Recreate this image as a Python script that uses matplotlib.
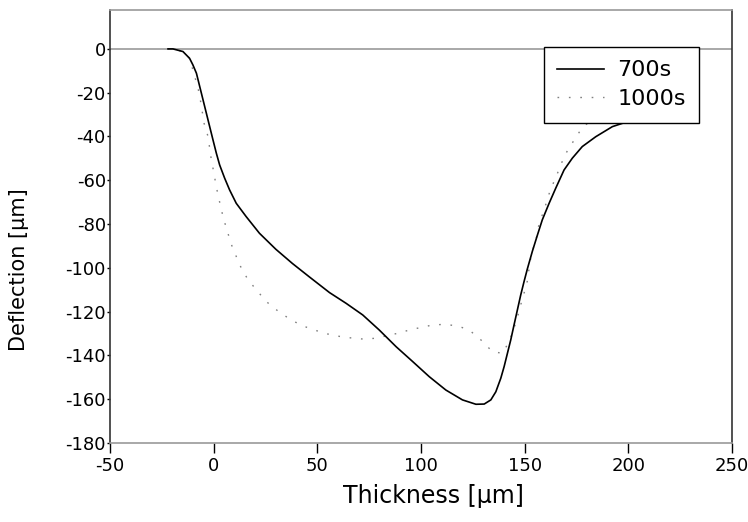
import matplotlib
matplotlib.use("Agg")
import matplotlib.pyplot as plt

# 700 s curve
x_700 = [-22, -19.6, -14.8, -11.6, -10, -8.3, -6.7, -5.1, -3.5, -1.9, -0.3, 1.3, 2.9, 5.3, 7.7, 10.9, 15.7,
         22.1, 30, 38, 46, 55.9, 63.9, 71.9, 79.9, 88, 96, 104, 112, 120, 126.5, 130.5, 133.7, 136.1,
         138.5, 140.1, 141.7, 143.3, 144.9, 146.5, 148.1, 149.7, 151.3, 153.7, 156.1, 158.5, 161.8,
         165, 169, 173, 177.8, 184.3, 192.3, 198.7, 206, 214]
y_700 = [0, 0, -1.2, -4.3, -7.3, -11.1, -17.2, -23.3, -29.4, -35.5, -41.6, -47.6, -53, -59, -64.4, -70.5, -76.6,
         -84.2, -91.5, -98, -104, -111.3, -116.2, -121.5, -128.4, -136, -142.8, -149.7, -155.8, -160.3, -162.3, -162.2, -160.3, -156.6,
         -150.4, -145.1, -139, -132.9, -126, -119.2, -112.4, -106.3, -100.5, -92.5, -85.2, -78.1, -70.5,
         -63.6, -55.3, -49.9, -44.6, -40.1, -35.5, -33.5, -31, -29]

# 1000 s curve
x_1000 = [-22, -19.6, -14.8, -11.6, -9.1, -7.5, -6.4, -5.5, -4.6, -2.7, -1.9, -1.1, 0, 1, 2.1, 3.4, 4.8, 6.6,
          8.2, 10.6, 13, 16.2, 20.5, 25.8, 31.4, 37.4, 43, 48.6, 55, 60.7, 66.3, 71.9, 77.5, 83.1, 88.7,
          94.4, 100, 105.6, 111.2, 117.6, 123.3, 128.9, 134.5, 139.3, 142.5, 144.9, 146.5, 148.1, 149.7,
          151.3, 152.1, 153, 154.5, 156.2, 157, 159.4, 161, 163.1, 165.5, 167.9, 170.6, 174.1, 177.8,
          183, 190, 198]
y_1000 = [0, 0, -1.2, -4.3, -12.6, -18, -23.3, -28.6, -34, -40, -45.4, -50.7, -56, -61.4, -66.7, -72, -77.7, -83.1,
          -88.5, -94.1, -99.4, -104.8, -110, -115.7, -120, -123.8, -126.5, -128.4, -130.2, -131.3, -132, -132.5, -132.2, -131.1, -129.9,
          -128.4, -127.2, -126.1, -125.8, -126.5, -128.4, -132.9, -138.3, -139, -133.7, -127.5, -122.6, -116.9, -111.6,
          -106, -100.5, -95.2, -89.8, -84.5, -79.2, -73.9, -68.2, -62.9, -57.6, -51.9, -46.5, -41.3, -35.9,
          -32, -28.5, -26]

series_labels = ["700s", "1000s"]
x_ticks = [-50, 0, 50, 100, 150, 200, 250]
y_ticks = [0, -20, -40, -60, -80, -100, -120, -140, -160, -180]

fig = plt.figure(figsize=(7.48, 5.22), dpi=100)
ax = fig.add_axes([0.147, 0.1513, 0.8316, 0.8305])

ax.axhline(0, color="#9a9a9a", lw=1.2, zorder=1)
ax.plot(x_700, y_700, color="black", lw=1.2, label=series_labels[0], zorder=3)
ax.plot(x_1000, y_1000, color="#808080", lw=1.0, linestyle=(0, (1.2, 7)), label=series_labels[1], zorder=2)

ax.set_xlim(-50, 250)
ax.set_ylim(-180, 18)
ax.set_xticks(x_ticks)
ax.set_yticks(y_ticks)
ax.set_xticklabels([str(t) for t in x_ticks], fontsize=13)
ax.set_yticklabels([str(t) for t in y_ticks], fontsize=13)
ax.tick_params(axis="x", direction="out", length=7, width=1, pad=3, colors="black")
ax.tick_params(axis="y", direction="out", length=2, width=1, pad=1, colors="black")

for side in ["top", "bottom"]:
    ax.spines[side].set_color("#9a9a9a")
    ax.spines[side].set_linewidth(1.2)
for side in ["left", "right"]:
    ax.spines[side].set_color("#333333")
    ax.spines[side].set_linewidth(1.2)

ax.set_xlabel("Thickness [µm]", fontsize=17)
ax.xaxis.set_label_coords(0.52, -0.095)
ax.set_ylabel("Deflection [µm]", fontsize=15)
ax.yaxis.set_label_coords(-0.13, 0.4)

leg = ax.legend(loc="upper right", bbox_to_anchor=(0.947, 0.9135), fontsize=16,
                frameon=True, fancybox=False, edgecolor="black", framealpha=1,
                handlelength=2.1, handletextpad=0.6, borderpad=0.6, labelspacing=0.4,
                borderaxespad=0)
leg.get_frame().set_linewidth(1.0)
leg.set_zorder(5)

fig.savefig("out.png", dpi=100)
